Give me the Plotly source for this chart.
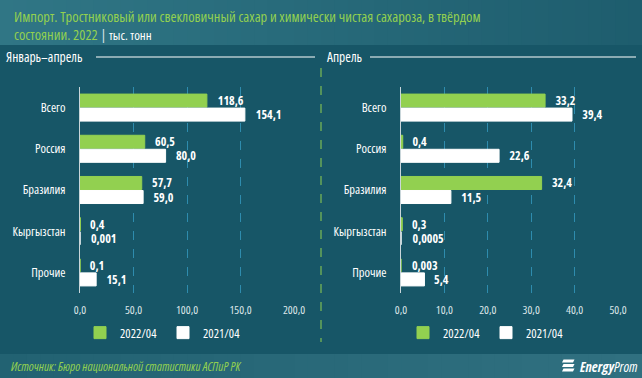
import plotly.graph_objects as go

# ---------------- data ----------------
categories = ["Всего", "Россия", "Бразилия", "Кыргызстан", "Прочие"]
series_names = ["2022/04", "2021/04"]

jan_apr_2022 = [118.6, 60.5, 57.7, 0.4, 0.1]
jan_apr_2021 = [154.1, 80.0, 59.0, 0.001, 15.1]
jan_apr_2022_labels = ["118,6", "60,5", "57,7", "0,4", "0,1"]
jan_apr_2021_labels = ["154,1", "80,0", "59,0", "0,001", "15,1"]

apr_2022 = [33.2, 0.4, 32.4, 0.3, 0.003]
apr_2021 = [39.4, 22.6, 11.5, 0.0005, 5.4]
apr_2022_labels = ["33,2", "0,4", "32,4", "0,3", "0,003"]
apr_2021_labels = ["39,4", "22,6", "11,5", "0,0005", "5,4"]

left_ticks = [0, 50, 100, 150, 200]
right_ticks = [0, 10, 20, 30, 40, 50]

title_line1 = "Импорт. Тростниковый или свекловичный сахар и химически чистая сахароза, в твёрдом"
title_line2 = "состоянии. 2022"
unit_text = "тыс. тонн"
left_panel_title = "Январь–апрель"
right_panel_title = "Апрель"
source_text = "Источник: Бюро национальной статистики АСПиР РК"
brand_bold = "Energy"
brand_rest = "Prom"

# ---------------- style ----------------
W, H = 642, 378
BG = "#175667"
GREEN = "#92d050"
WHITE = "#ffffff"
GRID = "#2e8cae"
FONT = "Open Sans"


def px(x):
    return x / W


def py(y):
    return 1 - y / H


fig = go.Figure()

bar_common = dict(orientation="h", textposition="outside", cliponaxis=False, constraintext="none",
                  texttemplate="  %{text}",
                  textfont=dict(color=WHITE, size=12, family=FONT, weight="bold"))

fig.add_trace(go.Bar(y=categories, x=jan_apr_2022, text=jan_apr_2022_labels, name=series_names[0],
                     marker=dict(color=GREEN, line=dict(color=GREEN, width=1)),
                     xaxis="x", yaxis="y", legend="legend", **bar_common))
fig.add_trace(go.Bar(y=categories, x=jan_apr_2021, text=jan_apr_2021_labels, name=series_names[1],
                     marker=dict(color=WHITE, line=dict(color=WHITE, width=1)),
                     xaxis="x", yaxis="y", legend="legend", **bar_common))
fig.add_trace(go.Bar(y=categories, x=apr_2022, text=apr_2022_labels, name=series_names[0],
                     marker=dict(color=GREEN, line=dict(color=GREEN, width=1)),
                     xaxis="x2", yaxis="y2", legend="legend2", **bar_common))
fig.add_trace(go.Bar(y=categories, x=apr_2021, text=apr_2021_labels, name=series_names[1],
                     marker=dict(color=WHITE, line=dict(color=WHITE, width=1)),
                     xaxis="x2", yaxis="y2", legend="legend2", **bar_common))

ydom = [py(293), py(87)]
xaxis_common = dict(showgrid=True, gridcolor=GRID, griddash="dash", gridwidth=1,
                    zeroline=False, showline=False, tickformat=".1f", automargin=False,
                    tickfont=dict(color="#dde6e9", size=11.5, family=FONT),
                    ticks="", ticklabelstandoff=8, fixedrange=True)
yaxis_common = dict(categoryorder="array", categoryarray=categories, autorange="reversed",
                    showgrid=False, zeroline=False, showline=True, linecolor="#c9d6da", linewidth=1,
                    ticks="", tickfont=dict(color=WHITE, size=12.5, family=FONT), automargin=False,
                    ticklabelstandoff=11, domain=ydom, fixedrange=True)

legend_common = dict(orientation="h", yanchor="middle", y=py(333), xanchor="center",
                     font=dict(color=WHITE, size=12.5, family=FONT), bgcolor="rgba(0,0,0,0)",
                     itemclick=False, itemdoubleclick=False, tracegroupgap=0,
                     itemwidth=30, entrywidth=38, entrywidthmode="pixels")

fig.update_layout(
    width=W, height=H,
    margin=dict(l=0, r=0, t=0, b=0),
    paper_bgcolor=BG, plot_bgcolor="rgba(0,0,0,0)",
    separators=", ",
    barmode="group", bargap=0.32, bargroupgap=0.07,
    font=dict(family=FONT, color=WHITE),
    xaxis=dict(domain=[px(80), px(294)], range=[0, 200], tickvals=left_ticks, anchor="y", **xaxis_common),
    yaxis=dict(anchor="x", **yaxis_common),
    xaxis2=dict(domain=[px(401), px(618)], range=[0, 50], tickvals=right_ticks, anchor="y2", **xaxis_common),
    yaxis2=dict(anchor="x2", **yaxis_common),
    legend=dict(x=px(163), **legend_common),
    legend2=dict(x=px(486), **legend_common),
    showlegend=True,
)

shapes = []
# header gradient
n = 48
c0, c1 = (48, 118, 133), (30, 93, 110)
for i in range(n):
    t = i / (n - 1)
    c = tuple(round(c0[k] + (c1[k] - c0[k]) * t) for k in range(3))
    shapes.append(dict(type="rect", xref="paper", yref="paper", x0=px(i * W / n), x1=px((i + 1) * W / n + 1),
                       y0=py(45), y1=1, fillcolor="rgb(%d,%d,%d)" % c, line=dict(width=0), layer="below"))
# footer gradient
f0, f1 = (34, 98, 114), (48, 112, 128)
for i in range(n):
    t = i / (n - 1)
    c = tuple(round(f0[k] + (f1[k] - f0[k]) * t) for k in range(3))
    shapes.append(dict(type="rect", xref="paper", yref="paper", x0=px(i * W / n), x1=px((i + 1) * W / n + 1),
                       y0=0, y1=py(354), fillcolor="rgb(%d,%d,%d)" % c, line=dict(width=0), layer="below"))
# panel title lines
shapes.append(dict(type="line", xref="paper", yref="paper", x0=px(96), x1=px(315), y0=py(57), y1=py(57),
                   line=dict(color=WHITE, width=1.2)))
shapes.append(dict(type="line", xref="paper", yref="paper", x0=px(370), x1=px(636), y0=py(57), y1=py(57),
                   line=dict(color=WHITE, width=1.2)))
# divider
shapes.append(dict(type="line", xref="paper", yref="paper", x0=px(321), x1=px(321), y0=py(68), y1=py(342),
                   line=dict(color=GREEN, width=1, dash="dash")))
# logo stripes
for k in range(3):
    y = 359.5 + k * 4.5
    shapes.append(dict(type="path", xref="paper", yref="paper",
                       path="M %f,%f L %f,%f L %f,%f L %f,%f Z" % (
                           px(562), py(y + 3), px(573), py(y + 3), px(574.5), py(y), px(563.5), py(y)),
                       fillcolor=WHITE, line=dict(width=0)))
fig.update_layout(shapes=shapes)

line2_html = ("<span style='color:%s'>%s</span> <span style='color:#d8e2e5'>|</span> "
              "<span style='color:#ffffff;font-size:13px;font-weight:400'>%s</span>") % (GREEN, title_line2, unit_text)

ann = [
    dict(text=title_line1, x=px(12), y=py(16), xanchor="left", yanchor="middle",
         font=dict(color=GREEN, size=14.5, family=FONT, weight=500)),
    dict(text=line2_html, x=px(12), y=py(35), xanchor="left", yanchor="middle",
         font=dict(color=GREEN, size=14.5, family=FONT, weight=500)),
    dict(text=left_panel_title, x=px(4), y=py(57), xanchor="left", yanchor="middle",
         font=dict(color=WHITE, size=13.5, family=FONT)),
    dict(text=right_panel_title, x=px(325), y=py(57), xanchor="left", yanchor="middle",
         font=dict(color=WHITE, size=13.5, family=FONT)),
    dict(text="<i>" + source_text + "</i>", x=px(9), y=py(366), xanchor="left", yanchor="middle",
         font=dict(color=GREEN, size=12.5, family=FONT)),
    dict(text="<b><i>" + brand_bold + "</i></b><i>" + brand_rest + "</i>", x=px(578), y=py(366),
         xanchor="left", yanchor="middle", font=dict(color=WHITE, size=14, family=FONT)),
]
for a in ann:
    a.update(xref="paper", yref="paper", showarrow=False, align="left")
fig.update_layout(annotations=ann)

post = (
    "var s=document.createElement('style');"
    "s.textContent='html,body{margin:0;padding:0;overflow:hidden} .main-svg text{font-stretch:condensed !important}';"
    "document.head.appendChild(s);"
    "var gd=document.getElementById('{plot_id}');"
    "var d=gd.data, l=gd.layout;"
    "Plotly.purge(gd);"
    "Plotly.newPlot(gd, d, l, {displayModeBar:false});"
)
fig.write_html("out.html", config={"displayModeBar": False}, post_script=post)
